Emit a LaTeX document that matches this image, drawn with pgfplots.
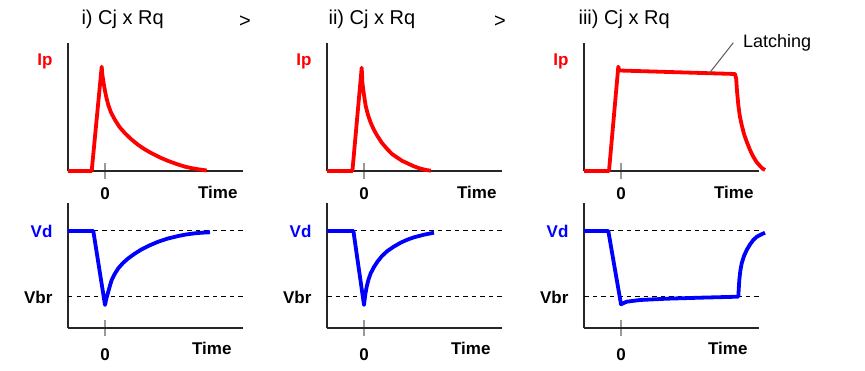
\documentclass[border=0pt]{standalone}
\usepackage{pgfplots}
\pgfplotsset{compat=1.18}
\usepackage{fontspec}
\setmainfont{Liberation Sans}
\definecolor{pred}{RGB}{255,0,0}
\definecolor{pblue}{RGB}{0,0,255}
\pgfplotsset{
  panel/.style={scale only axis, width=175pt, axis lines=left,
    axis line style={-, line width=1.3pt, black!85},
    xmin=-37, xmax=138, ymin=0, clip=false,
    xtick={0}, xticklabels={0}, tick align=center, major tick length=16pt,
    xtick style={draw=gray!80, line width=1.5pt}, ytick style={draw=none},
    ticklabel style={font=\fontsize{17}{20}\selectfont\bfseries},
    yticklabel style={anchor=east, xshift=-4pt},
    xlabel={Time}, label style={font=\fontsize{17}{20}\selectfont\bfseries},
    title style={font=\fontsize{20}{24}\selectfont, anchor=base west, yshift=12pt},
  },
  top/.style={panel, height=128pt, ymax=128, ytick={110}, yticklabels={\textcolor{pred}{Ip}},
    xticklabel style={anchor=base, yshift=-21pt},
    xlabel style={at={(axis description cs:1,0)}, anchor=base east, yshift=-28pt, xshift=-2pt}},
  bot/.style={panel, height=125pt, ymax=125, ytick={31,97}, yticklabels={Vbr,\textcolor{pblue}{Vd}},
    xticklabel style={anchor=base, yshift=-25pt},
    xlabel style={at={(axis description cs:1,0)}, anchor=base east, yshift=-27pt, xshift=-8pt}},
  ip/.style={pred, line width=3.8pt, line join=round},
  vd/.style={pblue, line width=3.8pt, line join=round},
  ref/.style={black, line width=1pt, dash pattern=on 4.5pt off 4pt},
}
\begin{document}
\begin{tikzpicture}
\path[use as bounding box] (0pt,0pt) rectangle (865pt,371pt);
% ---------- panel i ----------
\begin{axis}[top, at={(68pt,200pt)}, anchor=south west,
  title={i) Cj x Rq}, title style={at={(axis description cs:0.057,1)}}]
\addplot[ip] coordinates {(-37,0) (-13.3,0) (-3.3,104.3) (-2.5,95) (-1.2,87) (0,80) (1.5,73) (3.3,66) (6,58.5) (10,51) (14.5,44) (20,37.7) (26.5,31.5) (33.3,26) (40,21.5) (46.7,17.7) (55,13.5) (63.3,10) (71.5,7) (80,4.3) (87,2.8) (93.3,1.7) (101.7,0.5)};
\node[font=\fontsize{20}{24}\selectfont, anchor=base] at (axis cs:140,143) {>};
\end{axis}
\begin{axis}[bot, at={(68pt,43pt)}, anchor=south west]
\addplot[ref] coordinates {(-37,97) (138,97)};
\addplot[ref] coordinates {(-37,31) (138,31)};
\addplot[vd] coordinates {(-37,97) (-11.7,97) (0,23) (1.5,30) (3.3,36.3) (5,42.5) (6.7,48) (10,54.5) (13.3,59.7) (18,65) (23.3,69.7) (30,74.5) (36.7,78.7) (45,82.8) (53.3,86.3) (63,89.5) (73.3,92) (81,93.5) (90,94.7) (97,95.3) (105,95.7)};
\end{axis}
% ---------- panel ii ----------
\begin{axis}[top, at={(327pt,200pt)}, anchor=south west,
  title={ii) Cj x Rq}, title style={at={(axis description cs:-0.011,1)}}]
\addplot[ip] coordinates {(-37,0) (-11.6,0) (-2.3,103.3) (-1.6,88.3) (-0.3,78) (1.7,65) (4,56) (6.7,48.3) (10,41) (13.4,35) (18,28) (23.4,21.7) (28,17) (33.4,13.3) (38,10.2) (43.4,7.7) (50,4.6) (56.7,2.3) (62,1) (66.7,0.3)};
\node[font=\fontsize{20}{24}\selectfont, anchor=base] at (axis cs:136,143) {>};
\end{axis}
\begin{axis}[bot, at={(327pt,43pt)}, anchor=south west]
\addplot[ref] coordinates {(-37,97) (138,97)};
\addplot[ref] coordinates {(-37,31) (138,31)};
\addplot[vd] coordinates {(-37,97) (-10.6,97) (0,23) (1.2,33) (2.7,41.3) (4.5,48.5) (6.7,54.7) (10,61) (13.4,66.3) (18,72) (23.4,77) (30,81.5) (36.7,85.3) (43,88.2) (50,90.7) (60,93.3) (70,95.3)};
\end{axis}
% ---------- panel iii ----------
\begin{axis}[top, at={(584pt,200pt)}, anchor=south west,
  title={iii) Cj x Rq}, title style={at={(axis description cs:-0.051,1)}}]
\addplot[ip] coordinates {(-37,0) (-12,0) (-2.7,104.3) (-1.8,100.5) (114,97) (115.2,92) (116,80) (117.3,66) (118.8,55) (120.7,46) (123,37) (125.7,29.3) (129,21) (132.3,14.3) (135.5,9) (139,5) (141.5,2.5) (144,1)};
\draw[black!65, line width=1pt] (axis cs:88.3,97.7) -- (axis cs:112.3,128.3);
\node[font=\fontsize{18}{22}\selectfont, anchor=base west, inner sep=0pt] at (axis cs:122,123) {Latching};
\end{axis}
\begin{axis}[bot, at={(584pt,43pt)}, anchor=south west]
\addplot[ref] coordinates {(-37,97) (138,97)};
\addplot[ref] coordinates {(-37,31) (138,31)};
\addplot[vd] coordinates {(-37,97) (-12.7,97) (0,23.7) (5.7,26.3) (19,28) (45.7,29.3) (79,30.3) (117.3,31.3) (117.8,40) (118.3,48) (119.3,57) (120.7,64.7) (123,72) (125.7,78) (129,83.5) (132.3,88) (135.5,91) (139,93) (144,95.3)};
\end{axis}
\end{tikzpicture}
\end{document}
